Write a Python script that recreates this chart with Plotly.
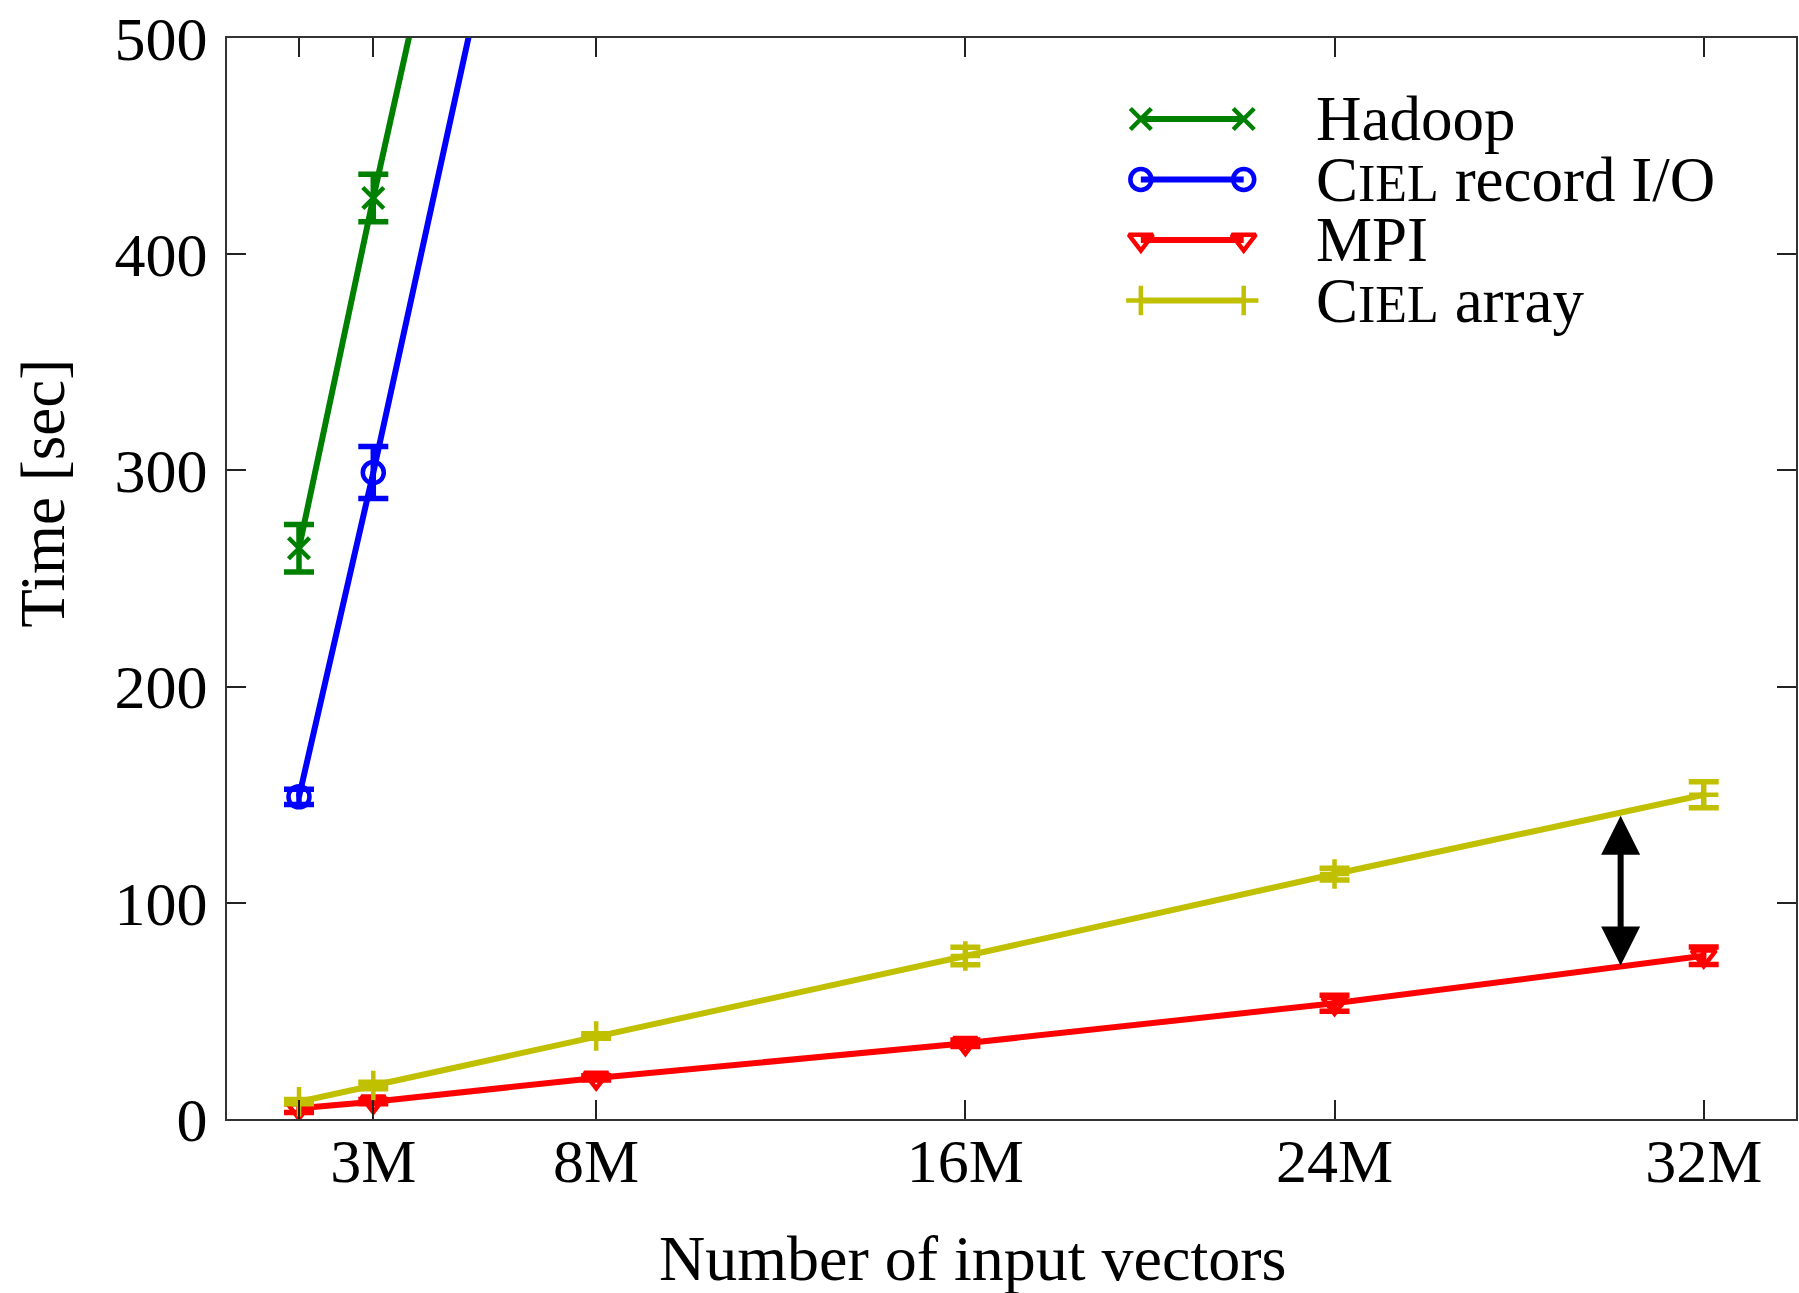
import plotly.graph_objects as go

# ---- data (x in millions of input vectors, y in seconds) ----
x_all = [1.56, 3.17, 8, 16, 24, 32]
x_tick_text = ["", "3M", "8M", "16M", "24M", "32M"]
y_ticks = [0, 100, 200, 300, 400, 500]

hadoop_x = [1.56, 3.17, 8]
hadoop_y = [264, 426, 890]
hadoop_err = [11, 11, 0]

record_x = [1.56, 3.17, 8]
record_y = [149, 299, 770]
record_err = [3.5, 12, 0]

mpi_y = [5, 8, 19, 35, 53.5, 75.5]
mpi_err = [2, 1, 1, 1.5, 3.7, 4]

array_y = [8, 15.5, 38.4, 75.4, 113.3, 150]
array_err = [1, 1.5, 1, 4, 2.7, 6]

# gap marker between CIEL array and MPI at ~30M
gap_x = 30.2
gap_top = 141
gap_bottom = 71

FONT = "Liberation Serif"
GREEN = "#008000"
BLUE = "#0000ff"
RED = "#ff0000"
OLIVE = "#c0c000"
LW = 6
SC = "font-size:52px"


def series(name, xs, ys, errs, color, symbol):
    return go.Scatter(
        x=xs, y=ys, name=name, mode="lines+markers",
        line=dict(color=color, width=LW),
        marker=dict(symbol=symbol, size=21, color=color,
                    line=dict(color=color, width=4.5)),
        error_y=dict(type="data", array=errs, visible=True, color=color,
                     thickness=5.5, width=15),
        showlegend=False,
    )


fig = go.Figure()
fig.add_trace(series("Hadoop", hadoop_x, hadoop_y, hadoop_err, GREEN, "x-thin-open"))
fig.add_trace(series("CIEL record I/O", record_x, record_y, record_err, BLUE, "circle-open"))
fig.add_trace(series("MPI", x_all, mpi_y, mpi_err, RED, "triangle-down-open"))
fig.add_trace(series("CIEL array", x_all, array_y, array_err, OLIVE, "cross-thin-open"))

# ---- hand-built key: short line with a marker at each end ----
legend_rows = [
    ("Hadoop", GREEN, "x-thin-open"),
    (f"C<span style='{SC}'>IEL</span> record I/O", BLUE, "circle-open"),
    ("MPI", RED, "triangle-down-open"),
    (f"C<span style='{SC}'>IEL</span> array", OLIVE, "cross-thin-open"),
]
key_x0, key_x1, key_text_x = 1142, 1245, 1315
key_y0, key_dy = 119, 60.5
for i, (label, color, symbol) in enumerate(legend_rows):
    yy = key_y0 + i * key_dy
    fig.add_trace(go.Scatter(
        x=[key_x0, key_x1], y=[yy, yy], mode="lines+markers",
        xaxis="x2", yaxis="y2", showlegend=False, hoverinfo="skip",
        line=dict(color=color, width=LW),
        marker=dict(symbol=symbol, size=21, color=color,
                    line=dict(color=color, width=4.5)),
    ))
    fig.add_annotation(
        x=key_text_x, y=yy, xref="x2", yref="y2", text=label,
        showarrow=False, xanchor="left", yanchor="middle",
        font=dict(family=FONT, size=63, color="black"),
    )

# double-headed arrow showing the gap
fig.add_annotation(
    x=gap_x, y=gap_bottom, ax=gap_x, ay=gap_top,
    xref="x", yref="y", axref="x", ayref="y",
    text="", showarrow=True, arrowhead=2, arrowside="end+start",
    arrowsize=1.3, arrowwidth=6, arrowcolor="black", standoff=0, startstandoff=0,
)

# axis titles
fig.add_annotation(
    x=-0.1175, y=0.579, xref="paper", yref="paper", text="Time [sec]",
    showarrow=False, textangle=-90, xanchor="center", yanchor="middle",
    font=dict(family=FONT, size=63, color="black"),
)
fig.add_annotation(
    x=0.4749, y=-0.129, xref="paper", yref="paper", text="Number of input vectors",
    showarrow=False, xanchor="center", yanchor="middle",
    font=dict(family=FONT, size=64, color="black"),
)

axis_common = dict(
    showline=True, linecolor="#333333", linewidth=2, mirror="allticks",
    ticks="inside", ticklen=19, tickwidth=2, tickcolor="#222222",
    showgrid=False, zeroline=False,
)

fig.update_layout(
    width=1799, height=1293,
    margin=dict(l=227, r=1, t=38, b=174),
    paper_bgcolor="white", plot_bgcolor="white",
    showlegend=False,
    xaxis=dict(range=[0, 34], tickvals=x_all, ticktext=x_tick_text,
               ticklabelstandoff=-13,
               tickfont=dict(family=FONT, size=62, color="black"), **axis_common),
    yaxis=dict(range=[0, 500], tickvals=y_ticks, ticklabelstandoff=5,
               tickfont=dict(family=FONT, size=62, color="black"), **axis_common),
    xaxis2=dict(overlaying="x", range=[227, 1798], visible=False, fixedrange=True),
    yaxis2=dict(overlaying="y", range=[1119, 38], visible=False, fixedrange=True),
)

fig.write_html("out.html")
